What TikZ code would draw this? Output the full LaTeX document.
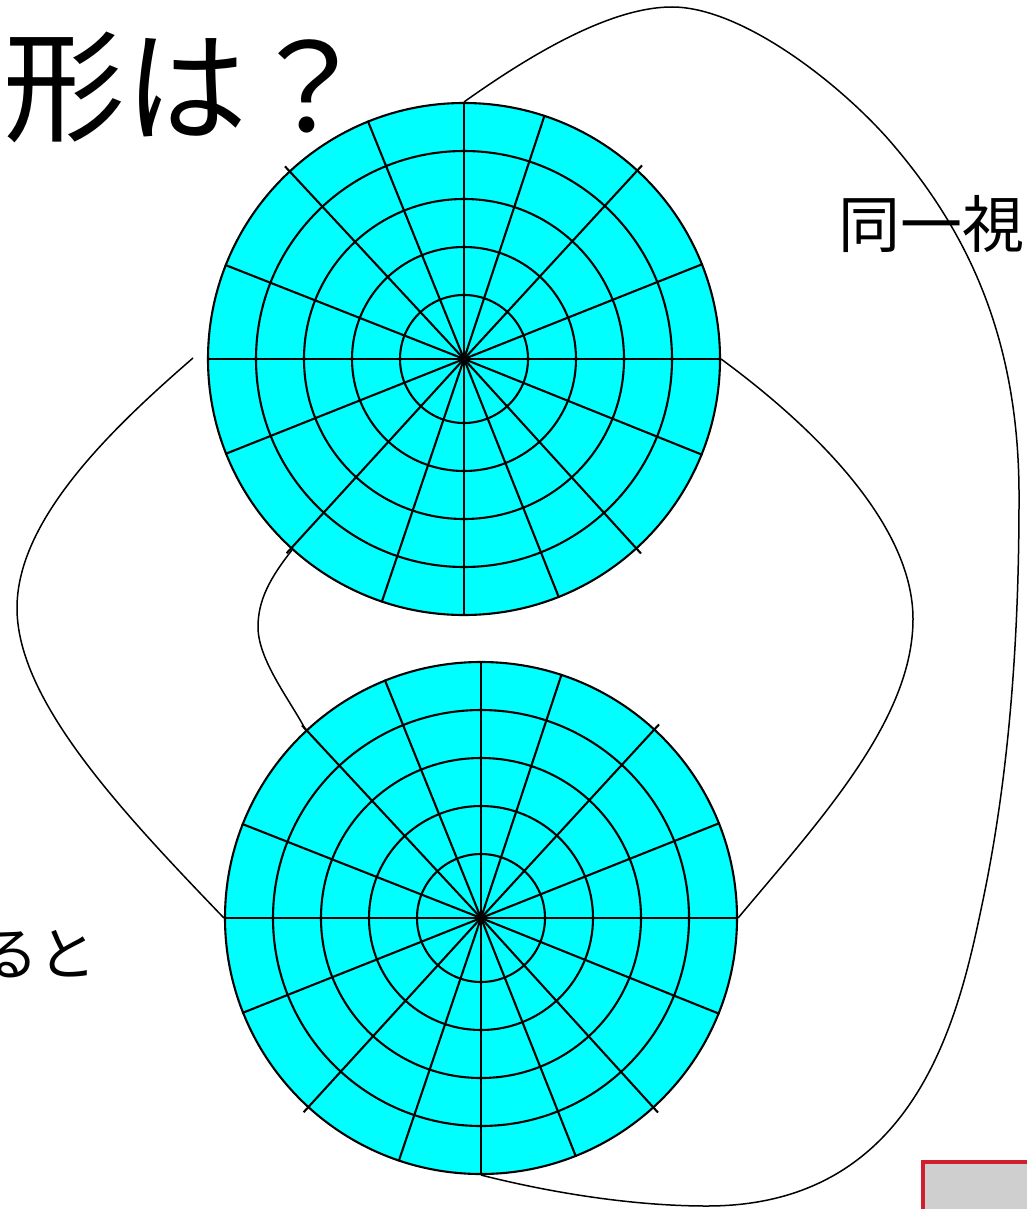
\documentclass[tikz,border=0pt]{standalone}
\usepackage{fontspec}
\newfontfamily\jpfont{Noto Sans CJK JP}
\definecolor{diskfill}{HTML}{00FFFF}
\definecolor{boxred}{HTML}{D02030}
\definecolor{boxgray}{HTML}{CFCFCF}
\tikzset{
  disk/.style={circle, minimum size=512pt, inner sep=0pt, fill=diskfill, draw=black, line width=2.1pt},
  gridline/.style={draw=black, line width=2.1pt},
  link/.style={draw=black, line width=1.5pt},
  jptext/.style={inner sep=0pt, anchor=base west, font=\jpfont}
}
\begin{document}
\begin{tikzpicture}[x=1pt, y=-1pt]
\useasboundingbox (0,0) rectangle (1027,1209);
\clip (0,0) rectangle (1027,1209);
% disks
\node[disk] (top) at (464,359) {};
\node[disk] (bot) at (481,918) {};
\foreach \d in {top,bot}{
  \foreach \r in {64,112,160,208}
    \draw[gridline] (\d.center) circle[radius=\r];
  \foreach \a in {0,21.7,71.7,90,112,158.5,180,201.7,251.3,270,291.7,338.1}
    \draw[gridline] (\d.center) -- ++(-\a:257);
  \foreach \a in {47.4,132.9,227.6,312.3}
    \draw[gridline] (\d.center) -- ++(-\a:263);
}
% connectors
\coordinate (lstart) at (193,358);
\draw[link] (lstart) .. controls (110,430) and (17,520) .. (17,608)
  .. controls (17,700) and (120,810) .. (bot.west);
\draw[link] (top.east) .. controls (815,428) and (913,525) .. (913,619)
  .. controls (913,720) and (820,820) .. (bot.east);
\draw[link] (top.228) .. controls (270,578) and (258,600) .. (258,627)
  .. controls (258,660) and (290,700) .. (bot.133);
\draw[link] (top.north) .. controls (530,55) and (610,7) .. (672,7)
  .. controls (740,7) and (836,80) .. (889,140)
  .. controls (961,223) and (1020,330) .. (1019,500)
  .. controls (1019,650) and (1007.5,782.5) .. (983,900)
  .. controls (960,1010) and (920,1206) .. (707,1206)
  .. controls (640,1206) and (560,1195) .. (bot.south);
% texts
\node[jptext, font=\jpfont\fontsize{122pt}{130pt}\selectfont] (t1) at (3,133) {形は？};
\node[jptext, font=\jpfont\fontsize{62pt}{66pt}\selectfont] (t2) at (838,247) {同一視};
\node[jptext, font=\jpfont\fontsize{58pt}{62pt}\selectfont] (t3) at (-20,975) {ると};
% box at bottom right
\node[draw=boxred, fill=boxgray, line width=4pt, inner sep=0pt, anchor=north west, minimum width=140pt, minimum height=90pt] (box) at (921,1160) {};
\end{tikzpicture}
\end{document}
